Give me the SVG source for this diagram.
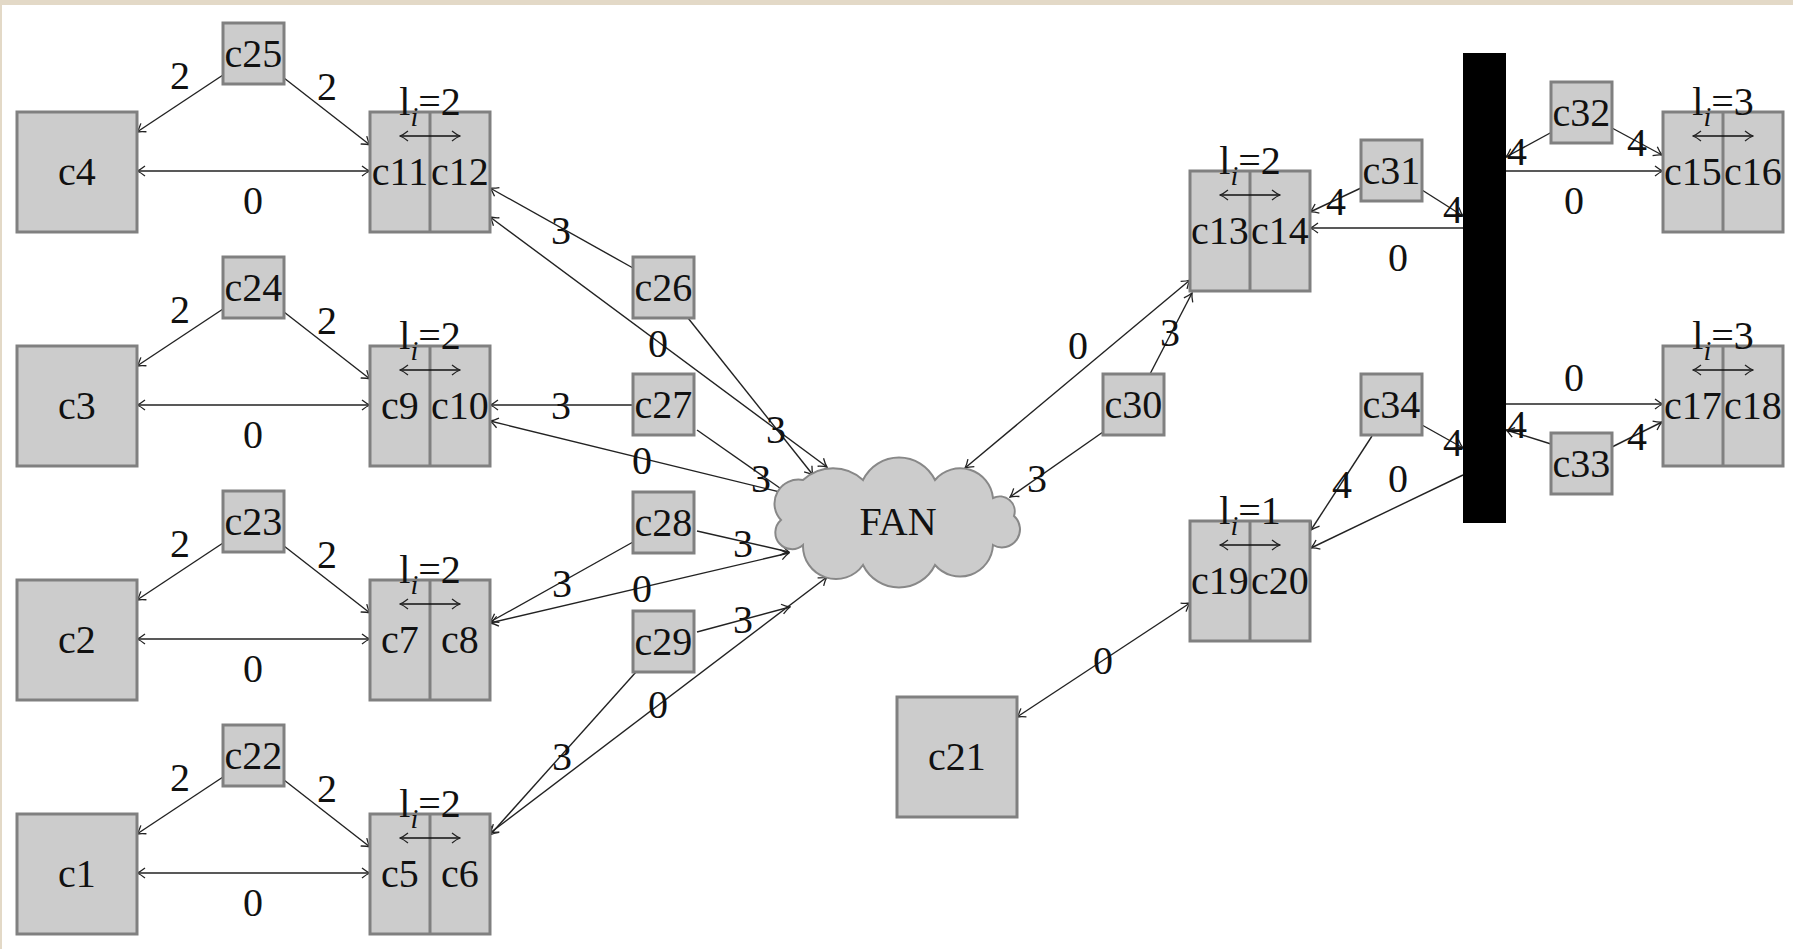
<svg xmlns="http://www.w3.org/2000/svg" width="1793" height="949" viewBox="0 0 1793 949">
<style>
text{font-family:"Liberation Serif","Times New Roman",serif;font-size:40px;fill:#111;text-anchor:middle}
.box{fill:#cccccc;stroke:#808080;stroke-width:3}
.div{stroke:#808080;stroke-width:3}
.e{stroke:#222;stroke-width:1.4;fill:none;marker-end:url(#ah)}
.b{marker-start:url(#ah)}
.in{stroke:#111;stroke-width:1.6;marker-start:url(#ah);marker-end:url(#ah)}
.sub{font-style:italic;font-size:28px}
.cloud{fill:#cccccc;stroke:#888888;stroke-width:2}
</style>
<defs>
<marker id="ah" viewBox="-9 -6 10 12" markerWidth="10" markerHeight="12" refX="0" refY="0" orient="auto-start-reverse" markerUnits="userSpaceOnUse">
<path d="M-8,-5 C-4.5,-2.2 -1.8,-0.7 0,0 C-1.8,0.7 -4.5,2.2 -8,5" fill="none" stroke="#222" stroke-width="1.3"/>
</marker>
</defs>

<!-- page -->
<rect x="0" y="0" width="1793" height="949" fill="#ffffff"/>
<rect x="0" y="0" width="1793" height="5" fill="#e3d9c7"/>
<rect x="0" y="0" width="2" height="949" fill="#e3d9c7"/>

<!-- connectors -->
<g id="connectors">
<path class="e" d="M223,75 L137,132"/>
<path class="e" d="M284,78 L370,145"/>
<path class="e b" d="M137,171 L370,171"/>
<path class="e" d="M223,309 L137,366"/>
<path class="e" d="M284,312 L370,379"/>
<path class="e b" d="M137,405 L370,405"/>
<path class="e" d="M223,543 L137,600"/>
<path class="e" d="M284,546 L370,613"/>
<path class="e b" d="M137,639 L370,639"/>
<path class="e" d="M223,777 L137,834"/>
<path class="e" d="M284,780 L370,847"/>
<path class="e b" d="M137,873 L370,873"/>

<path class="e" d="M633,268 L490,188"/>
<path class="e b" d="M490,217 L827,467"/>
<path class="e" d="M688,318 L813,475"/>
<path class="e" d="M633,405 L490,405"/>
<path class="e b" d="M490,421 L792,495"/>
<path class="e" d="M697,430 L787,493"/>
<path class="e" d="M697,531 L789,552"/>
<path class="e" d="M633,542 L490,622"/>
<path class="e b" d="M490,623 L789,553"/>
<path class="e" d="M697,632 L790,607"/>
<path class="e b" d="M490,833 L827,577"/>
<path class="e" d="M636,672 L490,835"/>

<path class="e b" d="M965,468 L1190,280"/>
<path class="e" d="M1150,374 L1192,293"/>
<path class="e" d="M1103,432 L1010,497"/>
<path class="e" d="M1361,188 L1310,212"/>
<path class="e" d="M1422,190 L1463,216"/>
<path class="e" d="M1463,228 L1310,228"/>
<path class="e" d="M1422,425 L1463,448"/>
<path class="e" d="M1372,436 L1311,530"/>
<path class="e" d="M1463,475 L1311,548"/>
<path class="e" d="M1506,171 L1663,171"/>
<path class="e" d="M1552,132 L1506,157"/>
<path class="e" d="M1612,128 L1662,155"/>
<path class="e" d="M1506,404 L1663,404"/>
<path class="e" d="M1551,444 L1506,430"/>
<path class="e" d="M1612,447 L1662,422"/>
<path class="e b" d="M1017,717 L1190,603"/>

<g id="edge-labels">
<text x="180" y="88.5">2</text><text x="327" y="99.5">2</text><text x="253" y="214">0</text>
<text x="180" y="322.5">2</text><text x="327" y="333.5">2</text><text x="253" y="448">0</text>
<text x="180" y="556.5">2</text><text x="327" y="567.5">2</text><text x="253" y="682">0</text>
<text x="180" y="790.5">2</text><text x="327" y="801.5">2</text><text x="253" y="916">0</text>
<text x="561" y="243.5">3</text>
<text x="658" y="356.5">0</text>
<text x="776" y="442.5">3</text>
<text x="561" y="418.5">3</text>
<text x="642" y="473.5">0</text>
<text x="761" y="491.5">3</text>
<text x="743" y="556.5">3</text>
<text x="562" y="596.5">3</text>
<text x="642" y="601.5">0</text>
<text x="743" y="632.5">3</text>
<text x="658" y="717.5">0</text>
<text x="562" y="769.5">3</text>
<text x="1078" y="358.5">0</text>
<text x="1170" y="345.5">3</text>
<text x="1037" y="491.5">3</text>
<text x="1336" y="214.5">4</text>
<text x="1453" y="222.5">4</text>
<text x="1398" y="270.5">0</text>
<text x="1453" y="455.5">4</text>
<text x="1342" y="497.5">4</text>
<text x="1398" y="491.5">0</text>
<text x="1574" y="213.5">0</text>
<text x="1517" y="164.5">4</text>
<text x="1637" y="155.5">4</text>
<text x="1574" y="390.5">0</text>
<text x="1517" y="437.5">4</text>
<text x="1637" y="449.5">4</text>
<text x="1103" y="673.5">0</text>
</g>
</g>

<!-- single boxes -->
<g id="c4"><rect class="box" x="17" y="112" width="120" height="120"/><text x="77" y="185">c4</text></g>
<g id="c3"><rect class="box" x="17" y="346" width="120" height="120"/><text x="77" y="419">c3</text></g>
<g id="c2"><rect class="box" x="17" y="580" width="120" height="120"/><text x="77" y="653">c2</text></g>
<g id="c1"><rect class="box" x="17" y="814" width="120" height="120"/><text x="77" y="887">c1</text></g>
<g id="c21"><rect class="box" x="897" y="697" width="120" height="120"/><text x="957" y="770">c21</text></g>

<!-- small boxes -->
<g id="c25"><rect class="box" x="223" y="23" width="61" height="61"/><text x="253.5" y="67">c25</text></g>
<g id="c24"><rect class="box" x="223" y="257" width="61" height="61"/><text x="253.5" y="301">c24</text></g>
<g id="c23"><rect class="box" x="223" y="491" width="61" height="61"/><text x="253.5" y="535">c23</text></g>
<g id="c22"><rect class="box" x="223" y="725" width="61" height="61"/><text x="253.5" y="769">c22</text></g>
<g id="c26"><rect class="box" x="633" y="257" width="61" height="61"/><text x="663.5" y="301">c26</text></g>
<g id="c27"><rect class="box" x="633" y="374" width="61" height="61"/><text x="663.5" y="418">c27</text></g>
<g id="c28"><rect class="box" x="633" y="492" width="61" height="61"/><text x="663.5" y="536">c28</text></g>
<g id="c29"><rect class="box" x="633" y="611" width="61" height="61"/><text x="663.5" y="655">c29</text></g>
<g id="c30"><rect class="box" x="1103" y="374" width="61" height="61"/><text x="1133.5" y="418">c30</text></g>
<g id="c31"><rect class="box" x="1361" y="140" width="61" height="61"/><text x="1391.5" y="184">c31</text></g>
<g id="c34"><rect class="box" x="1361" y="374" width="61" height="61"/><text x="1391.5" y="418">c34</text></g>
<g id="c32"><rect class="box" x="1551" y="82" width="61" height="61"/><text x="1581.5" y="126">c32</text></g>
<g id="c33"><rect class="box" x="1551" y="433" width="61" height="61"/><text x="1581.5" y="477">c33</text></g>

<!-- paired boxes -->
<g id="c11c12">
<rect class="box" x="370" y="112" width="120" height="120"/><line class="div" x1="430" y1="112" x2="430" y2="232"/>
<text x="400" y="185">c11</text><text x="460" y="185">c12</text>
<line class="in" x1="400" y1="136" x2="460" y2="136"/>
<text x="430" y="115">l<tspan class="sub" dy="11">i</tspan><tspan dy="-11">=2</tspan></text>
</g>
<g id="c9c10">
<rect class="box" x="370" y="346" width="120" height="120"/><line class="div" x1="430" y1="346" x2="430" y2="466"/>
<text x="400" y="419">c9</text><text x="460" y="419">c10</text>
<line class="in" x1="400" y1="370" x2="460" y2="370"/>
<text x="430" y="349">l<tspan class="sub" dy="11">i</tspan><tspan dy="-11">=2</tspan></text>
</g>
<g id="c7c8">
<rect class="box" x="370" y="580" width="120" height="120"/><line class="div" x1="430" y1="580" x2="430" y2="700"/>
<text x="400" y="653">c7</text><text x="460" y="653">c8</text>
<line class="in" x1="400" y1="604" x2="460" y2="604"/>
<text x="430" y="583">l<tspan class="sub" dy="11">i</tspan><tspan dy="-11">=2</tspan></text>
</g>
<g id="c5c6">
<rect class="box" x="370" y="814" width="120" height="120"/><line class="div" x1="430" y1="814" x2="430" y2="934"/>
<text x="400" y="887">c5</text><text x="460" y="887">c6</text>
<line class="in" x1="400" y1="838" x2="460" y2="838"/>
<text x="430" y="817">l<tspan class="sub" dy="11">i</tspan><tspan dy="-11">=2</tspan></text>
</g>
<g id="c13c14">
<rect class="box" x="1190" y="171" width="120" height="120"/><line class="div" x1="1250" y1="171" x2="1250" y2="291"/>
<text x="1220" y="244">c13</text><text x="1280" y="244">c14</text>
<line class="in" x1="1220" y1="195" x2="1280" y2="195"/>
<text x="1250" y="174">l<tspan class="sub" dy="11">i</tspan><tspan dy="-11">=2</tspan></text>
</g>
<g id="c15c16">
<rect class="box" x="1663" y="112" width="120" height="120"/><line class="div" x1="1723" y1="112" x2="1723" y2="232"/>
<text x="1693" y="185">c15</text><text x="1753" y="185">c16</text>
<line class="in" x1="1693" y1="136" x2="1753" y2="136"/>
<text x="1723" y="115">l<tspan class="sub" dy="11">i</tspan><tspan dy="-11">=3</tspan></text>
</g>
<g id="c17c18">
<rect class="box" x="1663" y="346" width="120" height="120"/><line class="div" x1="1723" y1="346" x2="1723" y2="466"/>
<text x="1693" y="419">c17</text><text x="1753" y="419">c18</text>
<line class="in" x1="1693" y1="370" x2="1753" y2="370"/>
<text x="1723" y="349">l<tspan class="sub" dy="11">i</tspan><tspan dy="-11">=3</tspan></text>
</g>
<g id="c19c20">
<rect class="box" x="1190" y="521" width="120" height="120"/><line class="div" x1="1250" y1="521" x2="1250" y2="641"/>
<text x="1220" y="594">c19</text><text x="1280" y="594">c20</text>
<line class="in" x1="1220" y1="545" x2="1280" y2="545"/>
<text x="1250" y="524">l<tspan class="sub" dy="11">i</tspan><tspan dy="-11">=1</tspan></text>
</g>

<!-- network cloud -->
<g id="FAN">
<path class="cloud" d="M803,480 A44,44 0 0 1 863,480 A40,40 0 0 1 935,480 A33,33 0 0 1 993,498 A15,15 0 0 1 1014,516 A18,18 0 0 1 993,545 A33,33 0 0 1 935,565 A40,40 0 0 1 863,565 A33,33 0 0 1 803,545 A16,16 0 0 1 781,520 A24,24 0 0 1 803,480 Z"/>
<text x="898" y="535">FAN</text>
</g>

<!-- switch bar -->
<g id="bar"><rect x="1463" y="53" width="43" height="470" fill="#000000"/></g>
</svg>
